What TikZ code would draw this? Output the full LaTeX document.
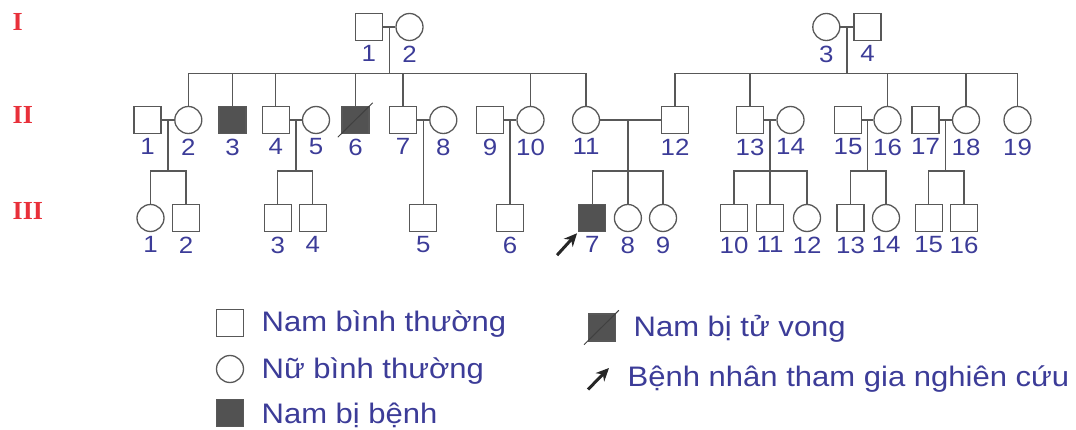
\documentclass[tikz,border=0pt]{standalone}
\usepackage{fontspec}
\setmainfont{Liberation Sans}[FakeStretch=1.1]
\newfontfamily\genfont{Liberation Serif}
\usetikzlibrary{positioning, calc, arrows.meta}

\definecolor{numblue}{RGB}{60,60,152}
\definecolor{genred}{RGB}{232,48,58}
\definecolor{linegray}{RGB}{88,88,88}
\definecolor{sickgray}{RGB}{82,82,82}

\tikzset{
  person/.style={draw=linegray, line width=1.3pt, fill=white, inner sep=0pt, minimum size=27pt},
  male/.style={person, rectangle},
  female/.style={person, circle},
  sick/.style={male, fill=sickgray},
  num/.style={text=numblue, inner sep=0pt, font=\fontsize{23.5}{24}\selectfont},
  gen/.style={text=genred, anchor=base west, inner sep=0pt, font=\genfont\bfseries\fontsize{26}{26}\selectfont},
  legtext/.style={text=numblue, anchor=base west, inner sep=0pt, font=\fontsize{28.2}{30}\selectfont},
  slash/.style={draw=black!75, line width=1pt},
  proband/.style={-{Stealth[length=13pt,width=12pt]}, line width=3pt, draw=black!85},
}

\begin{document}
\begin{tikzpicture}[x=1pt, y=-1pt, linegray, line width=1.3pt, label distance=4pt]
\useasboundingbox (0,0) rectangle (1076,430);
\coordinate (sibA) at (0,73.5);
\coordinate (sibB) at (0,171);
%
\node[gen] (genI) at (12,30.7) {I};
\node[gen] (genII) at (12,123.3) {II};
\node[gen] (genIII) at (12,219.3) {III};
%
% generation I
\node[male, label={[num]below:1}] (I1) at (368.8,27) {};
\node[female, label={[num]below:2}] (I2) at (409.5,27) {};
\node[female, label={[num]below:3}] (I3) at (826.3,27) {};
\node[male, label={[num]below:4}] (I4) at (867.5,27) {};
%
% generation II
\node[male, label={[num]below:1}] (II1) at (147.5,120) {};
\node[female, label={[num]below:2}] (II2) at (188.3,120) {};
\node[sick, label={[num]below:3}] (II3) at (232.5,120) {};
\node[male, label={[num]below:4}] (II4) at (275.8,120) {};
\node[female, label={[num]below:5}] (II5) at (316,120) {};
\node[sick, label={[num]below:6}] (II6) at (355.5,120) {};
\node[male, label={[num]below:7}] (II7) at (403,120) {};
\node[female, label={[num]below:8}] (II8) at (443.3,120) {};
\node[male, label={[num]below:9}] (II9) at (490,120) {};
\node[female, label={[num]below:10}] (II10) at (530.5,120) {};
\node[female, label={[num]below:11}] (II11) at (586,120) {};
\node[male, label={[num]below:12}] (II12) at (675,120) {};
\node[male, label={[num]below:13}] (II13) at (750,120) {};
\node[female, label={[num]below:14}] (II14) at (790.5,120) {};
\node[male, label={[num]below:15}] (II15) at (848,120) {};
\node[female, label={[num]below:16}] (II16) at (887.5,120) {};
\node[male, label={[num]below:17}] (II17) at (925.5,120) {};
\node[female, label={[num]below:18}] (II18) at (966,120) {};
\node[female, label={[num]below:19}] (II19) at (1017.5,120) {};
\draw[slash] ([shift={(-3.5,3)}]II6.south west) -- ([shift={(3,-3)}]II6.north east);
%
% generation III
\node[female, label={[num]below:1}] (III1) at (150.5,218) {};
\node[male, label={[num]below:2}] (III2) at (186,218) {};
\node[male, label={[num]below:3}] (III3) at (277.8,218) {};
\node[male, label={[num]below:4}] (III4) at (312.8,218) {};
\node[male, label={[num]below:5}] (III5) at (423.3,218) {};
\node[male, label={[num]below:6}] (III6) at (510,218) {};
\node[sick, label={[num]below:7}] (III7) at (592.2,218) {};
\node[female, label={[num]below:8}] (III8) at (627.9,218) {};
\node[female, label={[num]below:9}] (III9) at (663,218) {};
\node[male, label={[num]below:10}] (III10) at (734,218) {};
\node[male, label={[num]below:11}] (III11) at (770,218) {};
\node[female, label={[num]below:12}] (III12) at (807,218) {};
\node[male, label={[num]below:13}] (III13) at (850.5,218) {};
\node[female, label={[num]below:14}] (III14) at (886,218) {};
\node[male, label={[num]below:15}] (III15) at (928.7,218) {};
\node[male, label={[num]below:16}] (III16) at (964,218) {};
\coordinate (p7) at ([shift={(-21,23)}]III7.south west);
\draw[proband, shorten >=1.5pt] (p7) -- (III7.south west);
%
% couples of generation I and their children
\draw (I1) -- coordinate (m12) (I2);
\draw (m12) -- (m12 |- sibA);
\draw (II2.north) -- (II2 |- sibA) -- (II11 |- sibA) -- (II11.north);
\foreach \k in {3,4,6,7,10} \draw (II\k |- sibA) -- (II\k.north);
\draw (I3) -- coordinate (m34) (I4);
\draw (m34) -- (m34 |- sibA);
\draw (II12.north) -- (II12 |- sibA) -- (II19 |- sibA) -- (II19.north);
\foreach \k in {13,16,18} \draw (II\k |- sibA) -- (II\k.north);
%
% couples of generation II and their children
\draw (II1) -- coordinate (mA) (II2);
\draw (mA) -- (mA |- sibB);
\draw (III1.north) -- (III1 |- sibB) -- (III2 |- sibB) -- (III2.north);
\draw (II4) -- coordinate (mB) (II5);
\draw (mB) -- (mB |- sibB);
\draw (III3.north) -- (III3 |- sibB) -- (III4 |- sibB) -- (III4.north);
\draw (II7) -- (II8);
\draw (III5 |- II7) -- (III5.north);
\draw (II9) -- (II10);
\draw (III6 |- II9) -- (III6.north);
\draw (II11) -- (II12);
\draw (III8 |- II11) -- (III8.north);
\draw (III7.north) -- (III7 |- sibB) -- (III9 |- sibB) -- (III9.north);
\draw (II13) -- (II14);
\draw (III11 |- II13) -- (III11.north);
\draw (III10.north) -- (III10 |- sibB) -- (III12 |- sibB) -- (III12.north);
\draw (II15) -- coordinate (mC) (II16);
\draw (mC) -- (mC |- sibB);
\draw (III13.north) -- (III13 |- sibB) -- (III14 |- sibB) -- (III14.north);
\draw (II17) -- coordinate (mD) (II18);
\draw (mD) -- (mD |- sibB);
\draw (III15.north) -- (III15 |- sibB) -- (III16 |- sibB) -- (III16.north);
%
% legend
\node[male] (legM) at (230,323) {};
\node[legtext] (legMt) at (261,331.7) {Nam bình thường};
\node[female] (legF) at (230,369) {};
\node[legtext] (legFt) at (261,378) {Nữ bình thường};
\node[sick] (legS) at (230,413) {};
\node[legtext] (legSt) at (261,423.3) {Nam bị bệnh};
\node[sick] (legD) at (601.7,327.5) {};
\draw[slash] ([shift={(-3.5,3)}]legD.south west) -- ([shift={(3,-3)}]legD.north east);
\node[legtext] (legDt) at (633,336.7) {Nam bị tử vong};
\coordinate (legA1) at (588,389.5);
\coordinate (legA2) at (609,368);
\draw[proband] (legA1) -- (legA2);
\node[legtext] (legAt) at (627,386.7) {Bệnh nhân tham gia nghiên cứu};
\end{tikzpicture}
\end{document}
